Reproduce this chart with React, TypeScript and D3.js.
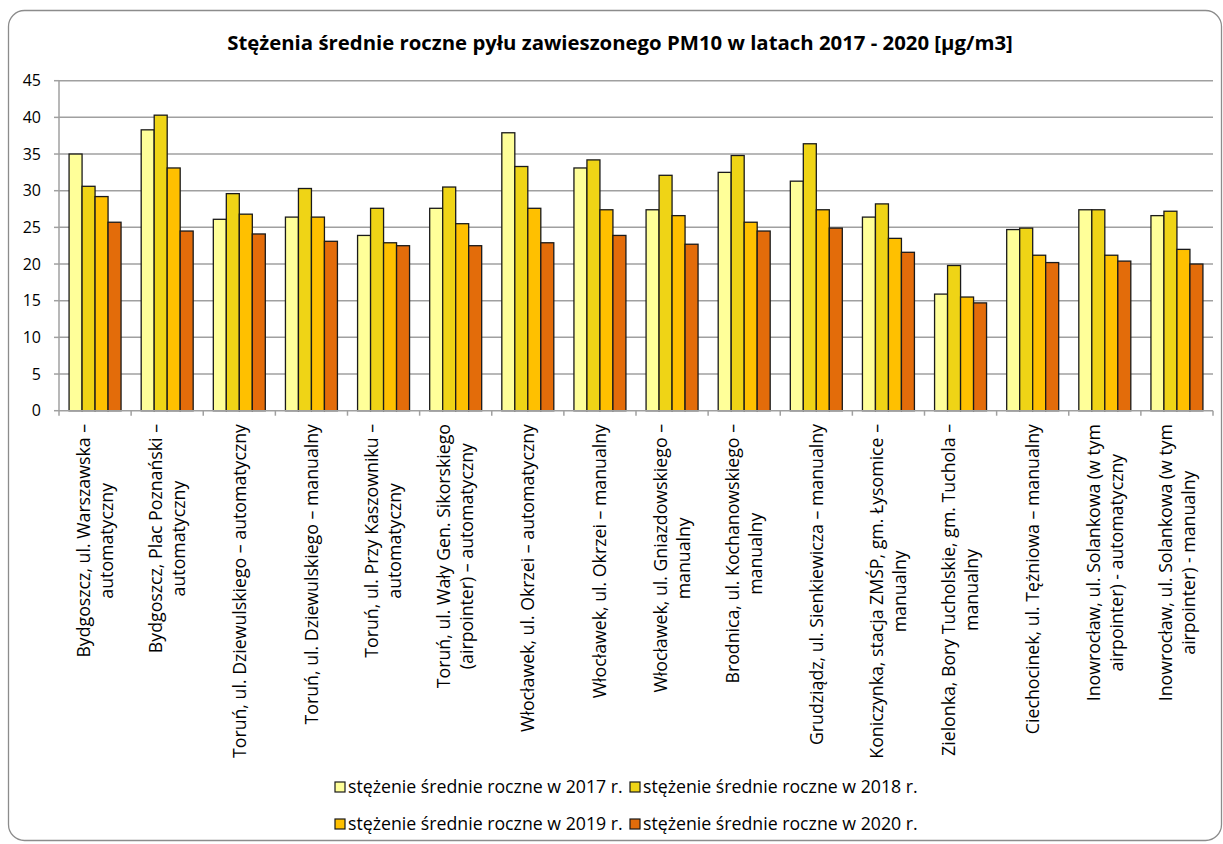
import React, { useEffect, useRef } from "react";
import * as d3 from "d3";

const TITLE = "Stężenia średnie roczne pyłu zawieszonego PM10 w latach 2017 - 2020 [µg/m3]";

const categories: string[][] = [
  ["Bydgoszcz, ul. Warszawska –", "automatyczny"],
  ["Bydgoszcz, Plac Poznański –", "automatyczny"],
  ["Toruń, ul. Dziewulskiego – automatyczny"],
  ["Toruń, ul. Dziewulskiego – manualny"],
  ["Toruń, ul. Przy Kaszowniku –", "automatyczny"],
  ["Toruń, ul. Wały Gen. Sikorskiego", "(airpointer) – automatyczny"],
  ["Włocławek, ul. Okrzei – automatyczny"],
  ["Włocławek, ul. Okrzei – manualny"],
  ["Włocławek, ul. Gniazdowskiego –", "manualny"],
  ["Brodnica, ul. Kochanowskiego –", "manualny"],
  ["Grudziądz, ul. Sienkiewicza – manualny"],
  ["Koniczynka, stacja ZMŚP, gm. Łysomice –", "manualny"],
  ["Zielonka, Bory Tucholskie, gm. Tuchola –", "manualny"],
  ["Ciechocinek, ul. Tężniowa – manualny"],
  ["Inowrocław, ul. Solankowa (w tym", "airpointer) - automatyczny"],
  ["Inowrocław, ul. Solankowa (w tym", "airpointer) - manualny"],
];

const values2017 = [35.0, 38.3, 26.1, 26.4, 23.9, 27.6, 37.9, 33.1, 27.4, 32.5, 31.3, 26.4, 15.9, 24.7, 27.4, 26.6];
const values2018 = [30.6, 40.3, 29.6, 30.3, 27.6, 30.5, 33.3, 34.2, 32.1, 34.8, 36.4, 28.2, 19.8, 24.9, 27.4, 27.2];
const values2019 = [29.2, 33.1, 26.8, 26.4, 22.9, 25.5, 27.6, 27.4, 26.6, 25.7, 27.4, 23.5, 15.5, 21.2, 21.2, 22.0];
const values2020 = [25.7, 24.5, 24.1, 23.1, 22.5, 22.5, 22.9, 23.9, 22.7, 24.5, 24.9, 21.6, 14.7, 20.2, 20.4, 20.0];

const seriesNames = [
  "stężenie średnie roczne w 2017 r.",
  "stężenie średnie roczne w 2018 r.",
  "stężenie średnie roczne w 2019 r.",
  "stężenie średnie roczne w 2020 r.",
];
const seriesColors = ["#FFFF99", "#EFD416", "#FFC000", "#E36C0A"];
const yTicks = [0, 5, 10, 15, 20, 25, 30, 35, 40, 45];

const FONT = "'Open Sans', 'Noto Sans', sans-serif";

export default function App() {
  const ref = useRef<SVGSVGElement | null>(null);

  useEffect(() => {
    const svg = d3.select(ref.current);
    svg.selectAll("*").remove();

    const W = 1223, H = 844;
    const left = 59, right = 1213, top = 80.7, bottom = 410.7;

    // Outer border
    svg.append("rect")
      .attr("x", 8.5).attr("y", 10.5).attr("width", 1213).attr("height", 830)
      .attr("rx", 16).attr("fill", "#fff").attr("stroke", "#8c8c8c").attr("stroke-width", 1.3);

    // Title
    const title = svg.append("text")
      .attr("x", 620).attr("y", 50)
      .attr("text-anchor", "middle")
      .attr("font-family", FONT).attr("font-weight", "bold").attr("font-size", 18)
      .attr("fill", "#000")
      .text(TITLE);
    const tl = (title.node() as SVGTextElement).getComputedTextLength();
    title.attr("font-size", 18 * 786 / tl);

    const x = d3.scaleBand<number>().domain(d3.range(categories.length)).range([left, right]).paddingInner(0).paddingOuter(0);
    const xs = d3.scaleBand<number>().domain([0, 1, 2, 3]).range([0, x.bandwidth()]).paddingInner(0).paddingOuter(0.775);
    const y = d3.scaleLinear().domain([0, 45]).range([bottom, top]);

    // Gridlines
    svg.append("g").selectAll("line").data(yTicks.filter(t => t > 0)).join("line")
      .attr("x1", left).attr("x2", right)
      .attr("y1", d => y(d)).attr("y2", d => y(d))
      .attr("stroke", "#a0a0a0").attr("stroke-width", 1.5);

    // Y axis
    const ya = svg.append("g");
    ya.append("line").attr("x1", left).attr("x2", left).attr("y1", top).attr("y2", bottom)
      .attr("stroke", "#a0a0a0").attr("stroke-width", 1.5);
    ya.selectAll("line.t").data(yTicks).join("line").attr("class", "t")
      .attr("x1", left - 5).attr("x2", left).attr("y1", d => y(d)).attr("y2", d => y(d))
      .attr("stroke", "#a0a0a0").attr("stroke-width", 1.5);
    ya.selectAll("text").data(yTicks).join("text")
      .attr("x", 41).attr("y", d => y(d)).attr("dy", "0.36em")
      .attr("text-anchor", "end").attr("font-family", FONT).attr("font-size", 16).attr("fill", "#000")
      .text(d => String(d));

    // Bars
    const series = [values2017, values2018, values2019, values2020];
    series.forEach((vals, si) => {
      svg.append("g").selectAll("rect").data(vals).join("rect")
        .attr("x", (_d, i) => (x(i) as number) + (xs(si) as number))
        .attr("y", d => y(d))
        .attr("width", xs.bandwidth())
        .attr("height", d => bottom - y(d))
        .attr("fill", seriesColors[si])
        .attr("stroke", "#1a1a1a").attr("stroke-width", 1.3);
    });

    // X axis
    const xa = svg.append("g");
    xa.append("line").attr("x1", left).attr("x2", right).attr("y1", bottom).attr("y2", bottom)
      .attr("stroke", "#a0a0a0").attr("stroke-width", 1.5);
    const bounds = d3.range(categories.length + 1).map(i => left + i * x.step());
    xa.selectAll("line.t").data(bounds).join("line").attr("class", "t")
      .attr("x1", d => d).attr("x2", d => d).attr("y1", bottom).attr("y2", bottom + 5)
      .attr("stroke", "#a0a0a0").attr("stroke-width", 1.5);

    // Legend (measure font first)
    const legendG = svg.append("g");
    const probe = legendG.append("text").attr("font-family", FONT).attr("font-size", 15).text(seriesNames[0]);
    const pl = (probe.node() as SVGTextElement).getComputedTextLength();
    probe.remove();
    const lfs = 15 * 275 / pl;

    // Category labels
    const labelTop = 424;
    const lineH = 23;
    categories.forEach((lines, i) => {
      const cx = (x(i) as number) + x.bandwidth() / 2;
      const g = svg.append("g");
      const texts = lines.map(l => g.append("text").attr("font-family", FONT).attr("font-size", lfs).attr("fill", "#000").attr("text-anchor", "middle").text(l));
      const maxL = d3.max(texts, t => (t.node() as SVGTextElement).getComputedTextLength()) as number;
      const cy = labelTop + maxL / 2;
      g.attr("transform", `translate(${cx},${cy}) rotate(-90)`);
      const n = lines.length;
      texts.forEach((t, li) => {
        t.attr("x", 0).attr("y", (li - (n - 1) / 2) * lineH).attr("dy", "0.35em");
      });
    });

    const legendPos = [
      { x: 335, y: 787 }, { x: 630, y: 787 },
      { x: 335, y: 824 }, { x: 630, y: 824 },
    ];
    seriesNames.forEach((name, si) => {
      const p = legendPos[si];
      legendG.append("rect").attr("x", p.x).attr("y", p.y - 5).attr("width", 10).attr("height", 10)
        .attr("fill", seriesColors[si]).attr("stroke", "#1a1a1a").attr("stroke-width", 1.2);
      legendG.append("text").attr("x", p.x + 13).attr("y", p.y).attr("dy", "0.35em")
        .attr("font-family", FONT).attr("font-size", lfs).attr("fill", "#000").text(name);
    });
  }, []);

  return (
    <svg ref={ref} width={1223} height={844} style={{ position: "absolute", left: 0, top: 0, background: "#fff" }} />
  );
}
